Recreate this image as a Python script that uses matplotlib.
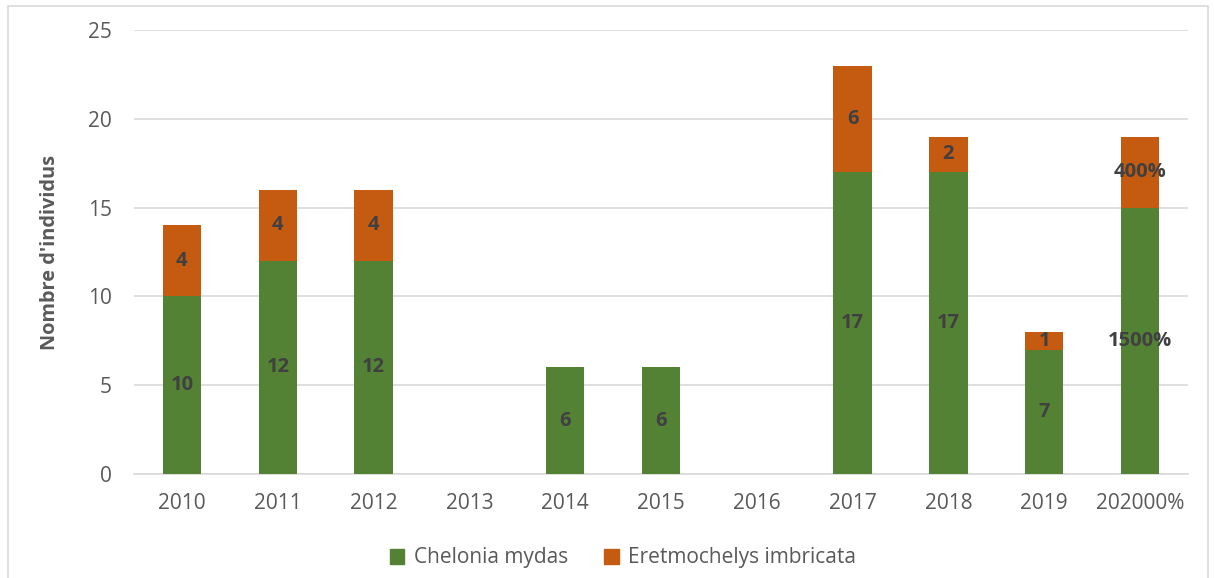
import matplotlib
matplotlib.use("Agg")
import matplotlib.pyplot as plt
from matplotlib.patches import Rectangle, Patch
import numpy as np

categories = ["2010", "2011", "2012", "2013", "2014", "2015", "2016", "2017", "2018", "2019", "202000%"]
chelonia = [10, 12, 12, 0, 6, 6, 0, 17, 17, 7, 15]
eretmo = [4, 4, 4, 0, 0, 0, 0, 6, 2, 1, 4]
chelonia_labels = ["10", "12", "12", "", "6", "6", "", "17", "17", "7", "1500%"]
eretmo_labels = ["4", "4", "4", "", "", "", "", "6", "2", "1", "400%"]

plt.rcParams['font.family'] = ['Open Sans', 'DejaVu Sans']

green = "#548235"
orange = "#C55A11"
tick_color = "#595959"
label_color = "#404040"

fig = plt.figure(figsize=(12.14, 5.78), dpi=100)
ax = fig.add_axes([0.1104, 0.180, 0.8682, 0.768])

x = np.arange(len(categories))
w = 0.4
ax.bar(x, chelonia, w, color=green, label="Chelonia mydas", zorder=3)
ax.bar(x, eretmo, w, bottom=chelonia, color=orange, label="Eretmochelys imbricata", zorder=3)

for i in range(len(categories)):
    if chelonia_labels[i]:
        ax.text(x[i], chelonia[i] / 2, chelonia_labels[i], ha="center", va="center",
                fontsize=14.5, fontweight="bold", color=label_color, zorder=4)
    if eretmo_labels[i]:
        ax.text(x[i], chelonia[i] + eretmo[i] / 2, eretmo_labels[i], ha="center", va="center",
                fontsize=14.5, fontweight="bold", color=label_color, zorder=4)

ax.set_xlim(-0.5, len(categories) - 0.5)
ax.set_ylim(0, 25)
ax.set_yticks([0, 5, 10, 15, 20, 25])
ax.set_xticks(x)
ax.set_xticklabels(categories)
ax.yaxis.grid(True, color="#D9D9D9", linewidth=1.2, zorder=0)
ax.set_axisbelow(True)
for s in ["top", "right", "left"]:
    ax.spines[s].set_visible(False)
ax.spines["bottom"].set_color("#D9D9D9")
ax.spines["bottom"].set_linewidth(1.2)
ax.tick_params(axis="both", length=0, labelsize=15, colors=tick_color)
ax.tick_params(axis="y", pad=16)
ax.tick_params(axis="x", pad=14)
ax.set_ylabel("Nombre d'individus", fontsize=14.4, fontweight="bold", color=tick_color, labelpad=20)

handles = [Patch(color=green), Patch(color=orange)]
fig.legend(handles, ["Chelonia mydas", "Eretmochelys imbricata"], loc="center",
           bbox_to_anchor=(623 / 1214, 1 - 558 / 578), ncol=2, frameon=False, fontsize=15,
           handlelength=0.7, handleheight=0.7, columnspacing=1.75, handletextpad=0.45,
           labelcolor=tick_color)

fig.patches.append(Rectangle((8 / 1214, -0.01), 1200 / 1214, 1 - 6 / 578 + 0.01,
                             transform=fig.transFigure, fill=False,
                             edgecolor="#D9D9D9", linewidth=1.2))

fig.savefig("out.png", dpi=100)
